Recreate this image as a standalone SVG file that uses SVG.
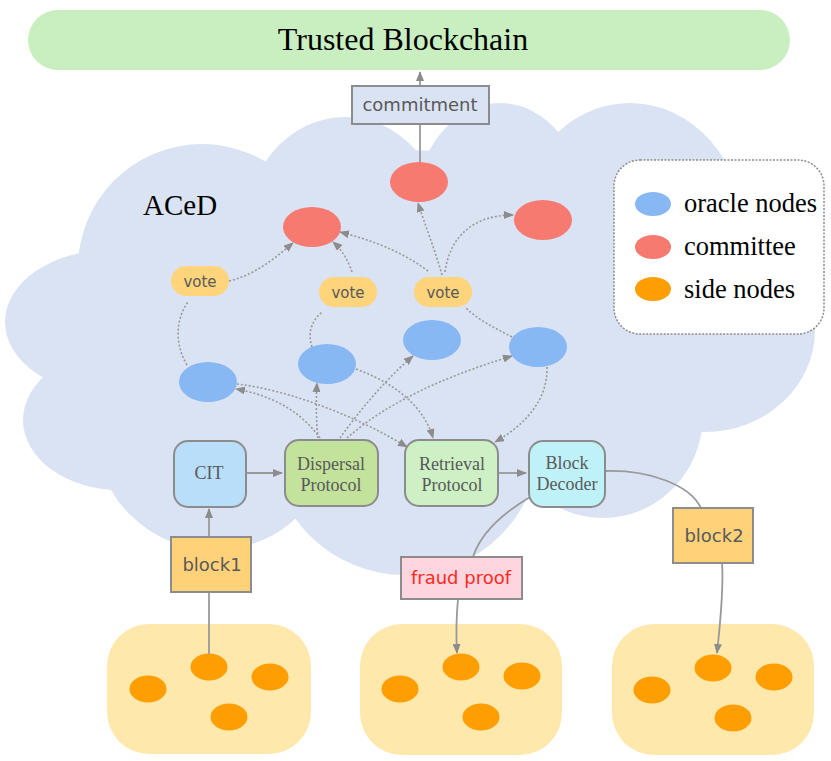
<svg xmlns="http://www.w3.org/2000/svg" width="831" height="761" viewBox="0 0 831 761">
<style>
.cloud{fill:#dae3f3}
.box{stroke:#8c8c8c;stroke-width:2}
.sans{font-family:"DejaVu Sans",Verdana,sans-serif;fill:#595959;text-anchor:middle}
.serif{font-family:"Liberation Serif","Times New Roman",serif;fill:#595959;text-anchor:middle;font-size:18px}
.blk{font-family:"Liberation Serif","Times New Roman",serif;fill:#000}
.oracle{fill:#88b8f4}
.comm{fill:#f77a71}
.side{fill:#ff9e00}
.vote{fill:#ffd47a}
.solid{fill:none;stroke:#999;stroke-width:1.8}
.dot{fill:none;stroke:#999;stroke-width:1.6;stroke-dasharray:2 2}
</style>
<defs>
<marker id="ah" markerUnits="userSpaceOnUse" markerWidth="10" markerHeight="8" refX="9" refY="4" orient="auto">
<path d="M0,0 L10,4 L0,8 z" fill="#8c8c8c"/>
</marker>
</defs>
<g id="cloud">
<circle class="cloud" cx="202" cy="268" r="124"/>
<ellipse class="cloud" cx="345" cy="230" rx="100" ry="113"/>
<ellipse class="cloud" cx="500" cy="210" rx="85" ry="107"/>
<ellipse class="cloud" cx="630" cy="235" rx="115" ry="132"/>
<ellipse class="cloud" cx="705" cy="330" rx="110" ry="102"/>
<ellipse class="cloud" cx="603" cy="415" rx="100" ry="103"/>
<circle class="cloud" cx="405" cy="440" r="135"/>
<circle class="cloud" cx="215" cy="430" r="120"/>
<ellipse class="cloud" cx="120" cy="420" rx="97" ry="70"/>
<ellipse class="cloud" cx="110" cy="322" rx="105" ry="72"/>
<ellipse class="cloud" cx="400" cy="330" rx="300" ry="180"/>
<text class="blk" x="143" y="215" font-size="29">ACeD</text>
</g>
<g id="trusted-blockchain">
<rect x="28" y="10" width="762" height="60" rx="30" fill="#c9efc0"/>
<text class="blk" x="403" y="50" font-size="32" text-anchor="middle">Trusted Blockchain</text>
</g>
<g id="legend">
<rect x="614" y="160" width="210" height="174" rx="26" fill="#fff" stroke="#8c8c8c" stroke-width="1.5" stroke-dasharray="2 1.5"/>
<ellipse class="oracle" cx="653" cy="204" rx="18" ry="12"/>
<ellipse class="comm" cx="653" cy="247" rx="18" ry="12"/>
<ellipse class="side" cx="653" cy="289" rx="18" ry="12"/>
<text class="blk" x="684" y="212" font-size="26.5">oracle nodes</text>
<text class="blk" x="684" y="255" font-size="26.5">committee</text>
<text class="blk" x="684" y="298" font-size="26.5">side nodes</text>
</g>
<g id="side-group1">
<rect x="107" y="624" width="204" height="130" rx="42" fill="#ffe8ab"/>
<ellipse class="side" cx="209" cy="667" rx="18.5" ry="13.5"/>
<ellipse class="side" cx="270" cy="677" rx="18.5" ry="13.5"/>
<ellipse class="side" cx="148" cy="689" rx="18.5" ry="13.5"/>
<ellipse class="side" cx="229" cy="717" rx="18.5" ry="13.5"/>
</g>
<g id="side-group2">
<rect x="360" y="624" width="202" height="131" rx="42" fill="#ffe8ab"/>
<ellipse class="side" cx="461" cy="667" rx="18.5" ry="13.5"/>
<ellipse class="side" cx="522" cy="676" rx="18.5" ry="13.5"/>
<ellipse class="side" cx="400" cy="689" rx="18.5" ry="13.5"/>
<ellipse class="side" cx="481" cy="717" rx="18.5" ry="13.5"/>
</g>
<g id="side-group3">
<rect x="612" y="624" width="202" height="131" rx="42" fill="#ffe8ab"/>
<ellipse class="side" cx="713" cy="668" rx="18.5" ry="13.5"/>
<ellipse class="side" cx="774" cy="677" rx="18.5" ry="13.5"/>
<ellipse class="side" cx="652" cy="690" rx="18.5" ry="13.5"/>
<ellipse class="side" cx="733" cy="718" rx="18.5" ry="13.5"/>
</g>
<g id="connectors">
<path class="solid" d="M420,86 L420,72" marker-end="url(#ah)"/>
<path class="solid" d="M420,163 L420,125"/>
<path class="solid" d="M209,537 L209,509" marker-end="url(#ah)"/>
<path class="solid" d="M209,654 L209,592"/>
<path class="solid" d="M246,473 L282,473" marker-end="url(#ah)"/>
<path class="solid" d="M498,473 L526,473" marker-end="url(#ah)"/>
<path class="solid" d="M530,497 C500,515 480,535 473,557"/>
<path class="solid" d="M606,471 C650,470 690,485 701,508"/>
<path class="solid" d="M458,599 C456,620 456,635 457,653" marker-end="url(#ah)"/>
<path class="solid" d="M722,563 C724,590 720,625 717,653" marker-end="url(#ah)"/>
<path class="dot" d="M229,281 C255,275 275,258 293,243" marker-end="url(#ah)"/>
<path class="dot" d="M352,272 C348,260 342,250 333,242" marker-end="url(#ah)"/>
<path class="dot" d="M428,271 C400,250 370,240 340,232" marker-end="url(#ah)"/>
<path class="dot" d="M442,275 C435,250 425,225 418,203" marker-end="url(#ah)"/>
<path class="dot" d="M445,272 C450,235 475,215 513,215" marker-end="url(#ah)"/>
<path class="dot" d="M187,365 C175,345 175,320 188,302"/>
<path class="dot" d="M312,347 C308,335 310,322 322,312"/>
<path class="dot" d="M512,337 C495,328 478,320 465,307"/>
<path class="dot" d="M320,438 C300,410 270,395 236,389" marker-end="url(#ah)"/>
<path class="dot" d="M318,438 C316,420 316,400 317,383" marker-end="url(#ah)"/>
<path class="dot" d="M340,438 C360,410 385,380 413,356" marker-end="url(#ah)"/>
<path class="dot" d="M347,438 C390,400 450,375 512,356" marker-end="url(#ah)"/>
<path class="dot" d="M237,384 C290,390 360,418 407,447" marker-end="url(#ah)"/>
<path class="dot" d="M356,369 C400,385 425,410 433,438" marker-end="url(#ah)"/>
<path class="dot" d="M547,367 C548,400 525,425 495,442" marker-end="url(#ah)"/>
</g>
<g id="commitment">
<rect class="box" x="352" y="86" width="137" height="38" fill="#dae3f3"/>
<text class="sans" x="420" y="111" font-size="18">commitment</text>
</g>
<g id="committee1"><ellipse class="comm" cx="419" cy="182" rx="29" ry="20"/></g>
<g id="committee2"><ellipse class="comm" cx="543" cy="220" rx="29" ry="20"/></g>
<g id="committee3"><ellipse class="comm" cx="312" cy="227" rx="29" ry="20"/></g>
<g id="vote1"><rect class="vote" x="171" y="266" width="58" height="30" rx="15"/><text class="sans" x="200" y="287" font-size="15">vote</text></g>
<g id="vote2"><rect class="vote" x="319" y="277" width="58" height="30" rx="15"/><text class="sans" x="348" y="298" font-size="15">vote</text></g>
<g id="vote3"><rect class="vote" x="414" y="277" width="58" height="30" rx="15"/><text class="sans" x="443" y="298" font-size="15">vote</text></g>
<g id="oracle1"><ellipse class="oracle" cx="208" cy="382" rx="29" ry="20"/></g>
<g id="oracle2"><ellipse class="oracle" cx="327" cy="364" rx="29" ry="20"/></g>
<g id="oracle3"><ellipse class="oracle" cx="432" cy="340" rx="29" ry="20"/></g>
<g id="oracle4"><ellipse class="oracle" cx="538" cy="347" rx="29" ry="20"/></g>
<g id="cit"><rect class="box" x="174" y="441" width="72" height="66" rx="14" fill="#b9def9"/><text class="serif" x="209" y="479">CIT</text></g>
<g id="dispersal"><rect class="box" x="285" y="440" width="93" height="66" rx="14" fill="#c3e39c"/><text class="serif" x="331" y="470">Dispersal</text><text class="serif" x="331" y="491">Protocol</text></g>
<g id="retrieval"><rect class="box" x="405" y="440" width="93" height="66" rx="14" fill="#cdf1c5"/><text class="serif" x="452" y="470">Retrieval</text><text class="serif" x="452" y="491">Protocol</text></g>
<g id="block-decoder"><rect class="box" x="529" y="441" width="76" height="66" rx="14" fill="#bff2f8"/><text class="serif" x="567" y="469">Block</text><text class="serif" x="567" y="490">Decoder</text></g>
<g id="block1"><rect class="box" x="171" y="537" width="80" height="55" fill="#ffd27a"/><text class="sans" x="212" y="571" font-size="18">block1</text></g>
<g id="fraud-proof"><rect class="box" x="401" y="557" width="121" height="42" fill="#ffd6e0"/><text class="sans" x="461" y="584" font-size="18" style="fill:#ff2a1a">fraud proof</text></g>
<g id="block2"><rect class="box" x="673" y="508" width="80" height="55" fill="#ffd27a"/><text class="sans" x="714" y="542" font-size="18">block2</text></g>
</svg>
